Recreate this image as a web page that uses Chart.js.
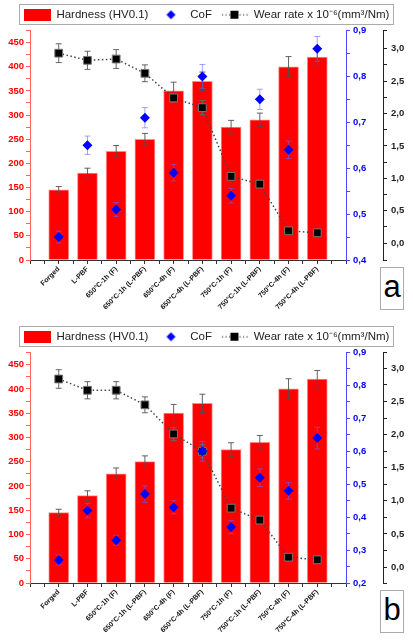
<!DOCTYPE html>
<html>
<head>
<meta charset="utf-8">
<script src="https://cdn.jsdelivr.net/npm/chart.js@4"></script>
<style>
  html, body { margin: 0; padding: 0; background: #fff; }
  #wrap { position: relative; width: 413px; height: 640px; overflow: hidden; }
  canvas { position: absolute; left: 0; }
  .tag {
    position: absolute; left: 380px; width: 22px; height: 41px;
    border: 1px solid #aaa; background: #fff;
    font: 31px "Liberation Sans", Arial, sans-serif; color: #000;
    text-align: center; line-height: 38px;
  }
</style>
</head>
<body>
<div id="wrap">
  <canvas id="chartA" width="413" height="322" style="top:0"></canvas>
  <canvas id="chartB" width="413" height="318" style="top:322px"></canvas>
  <div class="tag" style="top:267px">a</div>
  <div class="tag" style="top:590px">b</div>
</div>
<script>
// sample conditions
const categories = ['Forged', 'L-PBF', '650°C-1h (F)', '650°C-1h (L-PBF)', '650°C-4h (F)',
  '650°C-4h (L-PBF)', '750°C-1h (F)', '750°C-1h (L-PBF)', '750°C-4h (F)', '750°C-4h (L-PBF)'];
const legendLabels = ['Hardness (HV0.1)', 'CoF', 'Wear rate x 10⁻⁶(mm³/Nm)'];

// hardness is the same in both panels
const hardness = [145, 180, 225, 250, 350, 370, 275, 290, 400, 420];
const hardnessErr = [7, 10, 12, 12, 18, 19, 14, 14, 21, 18];

// panel a
const cofA = [0.45, 0.65, 0.51, 0.71, 0.59, 0.80, 0.54, 0.75, 0.64, 0.86];
const cofErrA = [0.013, 0.02, 0.015, 0.022, 0.018, 0.026, 0.016, 0.022, 0.019, 0.027];
const wearA = [2.93, 2.82, 2.84, 2.62, 2.24, 2.09, 1.03, 0.91, 0.19, 0.16];
const wearErrA = [0.145, 0.14, 0.145, 0.13, 0.06, 0.11, 0.04, 0.04, 0.03, 0.03];

// panel b
const cofB = [0.27, 0.42, 0.33, 0.47, 0.43, 0.60, 0.37, 0.52, 0.48, 0.64];
const cofErrB = [0.015, 0.022, 0.015, 0.025, 0.02, 0.03, 0.02, 0.027, 0.025, 0.033];
const wearB = [2.84, 2.67, 2.67, 2.45, 2.01, 1.75, 0.89, 0.71, 0.15, 0.11];
const wearErrB = [0.14, 0.13, 0.13, 0.12, 0.1, 0.1, 0.04, 0.04, 0.03, 0.03];

// axis ranges
const hardnessRange = [0, 475];
const cofRangeA = [0.4, 0.9];
const cofRangeB = [0.2, 0.9];
const wearRangeA = [-0.26, 3.28];
const wearRangeB = [-0.24, 3.24];

Chart.defaults.font.family = '"Liberation Sans", Arial, sans-serif';
Chart.defaults.animation = false;

const FONT_TICK = { size: 9.5, weight: 'bold' };

function comma(v) {
  return v.toFixed(1).replace('.', ',');
}
function isStep(v, step) {
  const r = v / step;
  return Math.abs(r - Math.round(r)) < 1e-6;
}

// small canvases used as legend symbols
function legendSymbol(kind) {
  const c = document.createElement('canvas');
  c.width = 27; c.height = 12;
  const g = c.getContext('2d');
  if (kind === 'bar') {
    g.fillStyle = '#ff0000';
    g.fillRect(0, 0, 27, 12);
  } else if (kind === 'cof') {
    g.fillStyle = '#0000ff';
    g.beginPath();
    g.moveTo(13.5, 1.5); g.lineTo(18, 6); g.lineTo(13.5, 10.5); g.lineTo(9, 6);
    g.closePath(); g.fill();
  } else {
    g.fillStyle = '#444';
    for (let x = 1; x < 27; x += 3.5) g.fillRect(x, 5.5, 1.2, 1.2);
    g.fillStyle = '#000';
    g.fillRect(9.5, 2, 8, 8);
  }
  return c;
}
const symbols = [legendSymbol('bar'), legendSymbol('cof'), legendSymbol('wear')];

const errorBars = {
  id: 'errorBars',
  draw(chart, meta, ds) {
    if (!ds.errors) return;
    const yScale = chart.scales[meta.yAxisID];
    const ctx = chart.ctx;
    ctx.save();
    ctx.strokeStyle = ds.errorColor;
    ctx.lineWidth = 1;
    meta.data.forEach((el, i) => {
      const v = ds.data[i].y, e = ds.errors[i];
      const x = el.x;
      const y1 = yScale.getPixelForValue(v + e);
      const y2 = yScale.getPixelForValue(v - e);
      ctx.beginPath();
      ctx.moveTo(x, y1); ctx.lineTo(x, y2);
      ctx.moveTo(x - 3, y1); ctx.lineTo(x + 3, y1);
      ctx.moveTo(x - 3, y2); ctx.lineTo(x + 3, y2);
      ctx.stroke();
    });
    ctx.restore();
  },
  beforeDatasetDraw(chart, args) {
    const ds = chart.data.datasets[args.index];
    if (ds.type !== 'bar') this.draw(chart, args.meta, ds);
  },
  afterDatasetDraw(chart, args) {
    const ds = chart.data.datasets[args.index];
    if (ds.type === 'bar') this.draw(chart, args.meta, ds);
  }
};

const legendFrame = {
  id: 'legendFrame',
  afterDraw(chart) {
    const boxes = chart.legend.legendHitBoxes;
    if (!boxes || !boxes.length) return;
    const left = Math.min(...boxes.map(b => b.left)) - 5;
    const right = Math.max(...boxes.map(b => b.left + b.width)) + 3;
    const top = boxes[0].top - 5;
    const bottom = boxes[0].top + boxes[0].height + 3;
    const ctx = chart.ctx;
    ctx.save();
    ctx.strokeStyle = '#aaa';
    ctx.lineWidth = 1;
    ctx.strokeRect(Math.round(left) + 0.5, Math.round(top) + 0.5, Math.round(right - left), Math.round(bottom - top));
    ctx.restore();
  }
};

function points(values) {
  return values.map((v, i) => ({ x: i, y: v }));
}

function makePanel(id, cof, cofErr, wear, wearErr, cofRange, wearRange, xHeight) {
  const ctx = document.getElementById(id).getContext('2d');
  return new Chart(ctx, {
    data: {
      datasets: [
        {
          type: 'bar',
          label: legendLabels[0],
          data: points(hardness),
          errors: hardnessErr,
          errorColor: 'rgba(80,80,80,0.9)',
          backgroundColor: '#ff0000',
          borderColor: '#ff8a8a',
          borderWidth: 1,
          barThickness: 20,
          yAxisID: 'y',
          order: 3
        },
        {
          type: 'line',
          label: legendLabels[1],
          data: points(cof),
          errors: cofErr,
          errorColor: 'rgba(100,100,255,0.6)',
          showLine: false,
          pointStyle: 'rectRot',
          pointRadius: 5,
          pointBackgroundColor: '#0000ff',
          pointBorderColor: '#0000ff',
          pointBorderWidth: 0,
          yAxisID: 'yCof',
          order: 1
        },
        {
          type: 'line',
          label: legendLabels[2],
          data: points(wear),
          errors: wearErr,
          errorColor: '#666',
          borderColor: '#444',
          borderWidth: 1.5,
          borderDash: [1.5, 2.5],
          pointStyle: 'rect',
          pointRadius: 5.5,
          pointBackgroundColor: '#000',
          pointBorderColor: '#777',
          pointBorderWidth: 1,
          yAxisID: 'yWear',
          order: 2
        }
      ]
    },
    options: {
      responsive: false,
      devicePixelRatio: 1,
      layout: { padding: { top: 0, left: 0, right: 0, bottom: 0 } },
      plugins: {
        tooltip: { enabled: false },
        legend: {
          position: 'top',
          labels: {
            usePointStyle: true,
            pointStyleWidth: 27,
            boxWidth: 27,
            boxHeight: 12,
            padding: 9,
            color: '#222',
            font: { size: 11.5 },
            generateLabels: chart => legendLabels.map((t, i) => ({
              text: t,
              pointStyle: symbols[i],
              datasetIndex: i,
              hidden: false,
              lineWidth: 0,
              fontColor: '#222'
            }))
          }
        }
      },
      scales: {
        x: {
          type: 'linear',
          min: -1,
          max: 10,
          offset: false,
          afterFit: s => { s.height = xHeight; },
          ticks: {
            stepSize: 0.5,
            autoSkip: false,
            minRotation: 45,
            maxRotation: 45,
            padding: 1,
            color: '#111',
            font: { size: 7, weight: 'bold' },
            callback: v => (Number.isInteger(v) && v >= 0 && v < categories.length) ? categories[v] : ''
          },
          grid: { offset: false, drawOnChartArea: false, tickLength: 4, color: '#333' },
          border: { color: '#333' }
        },
        y: {
          position: 'left',
          min: hardnessRange[0],
          max: hardnessRange[1],
          afterFit: s => { s.width = 30; },
          ticks: {
            stepSize: 25,
            autoSkip: false,
            padding: 2,
            color: '#ff0000',
            font: FONT_TICK,
            callback: v => isStep(v, 50) ? v : ''
          },
          grid: { drawOnChartArea: false, tickLength: 4, color: '#ff6060' },
          border: { color: '#ff6060' }
        },
        yCof: {
          position: 'right',
          min: cofRange[0],
          max: cofRange[1],
          afterFit: s => { s.width = 37; },
          ticks: {
            stepSize: 0.05,
            autoSkip: false,
            padding: 3,
            color: '#0000ff',
            font: FONT_TICK,
            callback: v => isStep(v, 0.1) ? comma(v) : ''
          },
          grid: { drawOnChartArea: false, tickLength: 4, color: '#4a4aff' },
          border: { color: '#4a4aff' }
        },
        yWear: {
          position: 'right',
          min: wearRange[0],
          max: wearRange[1],
          afterFit: s => { s.width = 30; },
          ticks: {
            stepSize: 0.25,
            autoSkip: false,
            includeBounds: true,
            padding: 4,
            color: '#222',
            font: FONT_TICK,
            callback: v => isStep(v, 0.5) ? comma(v) : ''
          },
          grid: { drawOnChartArea: false, tickLength: 4, color: '#222' },
          border: { color: '#222' }
        }
      }
    },
    plugins: [errorBars, legendFrame]
  });
}

makePanel('chartA', cofA, cofErrA, wearA, wearErrA, cofRangeA, wearRangeA, 62);
makePanel('chartB', cofB, cofErrB, wearB, wearErrB, cofRangeB, wearRangeB, 57);
</script>
</body>
</html>
